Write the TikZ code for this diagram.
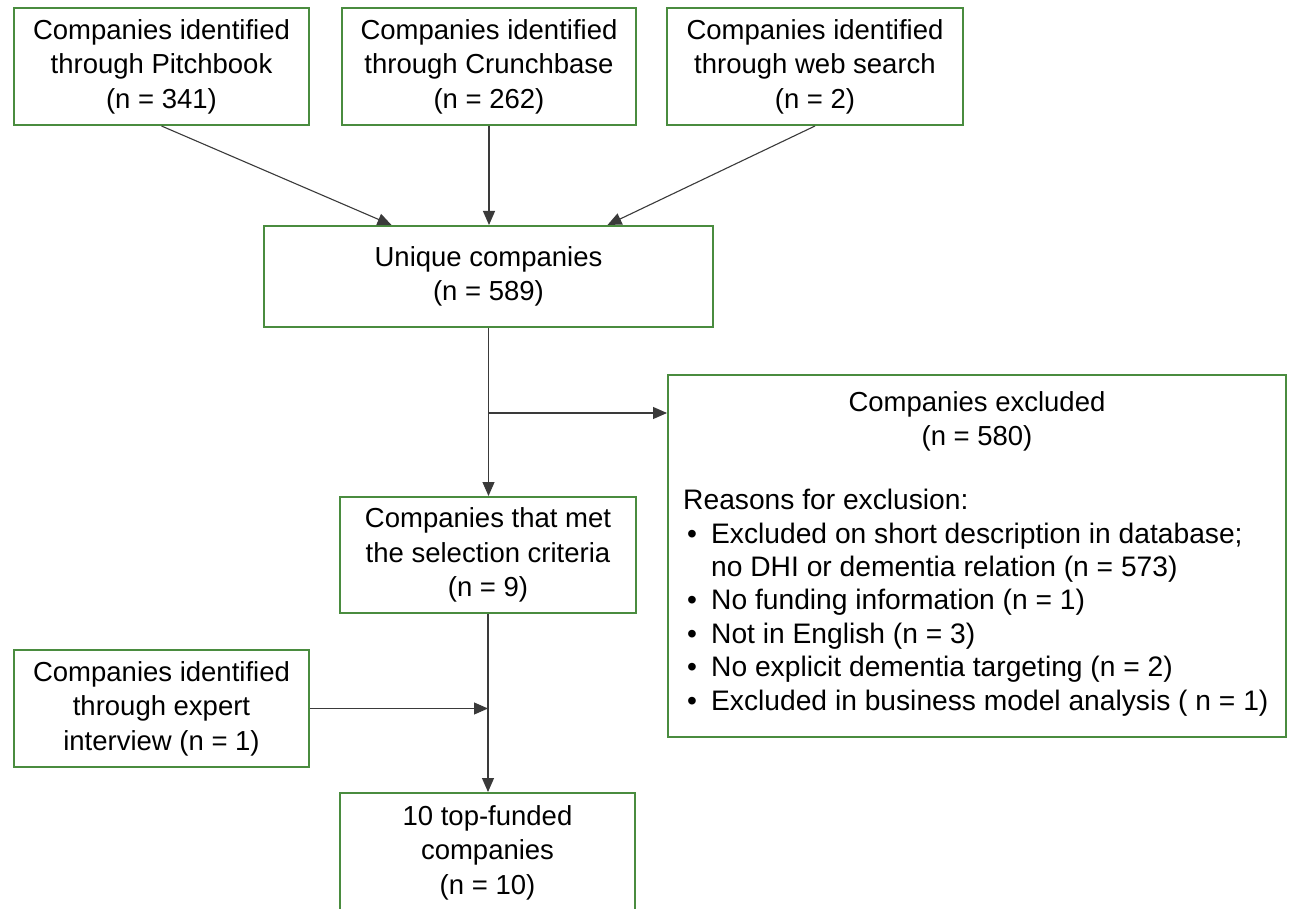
\documentclass[tikz,border=0pt]{standalone}
\usepackage{fontspec}
\setmainfont{Liberation Sans}
\usetikzlibrary{arrows.meta,calc}
\definecolor{boxgreen}{HTML}{4A8C3F}
\definecolor{linegray}{HTML}{3A3A3A}
\tikzset{
  stepbox/.style={draw=boxgreen, line width=2pt, fill=white, align=center, inner sep=0pt,
    font=\fontsize{27.5pt}{34.5pt}\selectfont},
  arr/.style={draw=linegray, line width=1.1pt, -{Triangle[length=14pt,width=12pt]}},
  txt/.style={inner sep=0pt, font=\fontsize{27.5pt}{34.5pt}\selectfont},
  listtxt/.style={inner sep=0pt, font=\fontsize{28.2pt}{33.4pt}\selectfont}
}
\begin{document}
\begin{tikzpicture}[x=1pt,y=-1pt]
\useasboundingbox (0,0) rectangle (1289,909);
\clip (0,0) rectangle (1289,909);
\fill[white] (0,0) rectangle (1289,909);

\node[stepbox, minimum width=295pt, minimum height=117pt] (A) at (161.5,66.5) {Companies identified\\through Pitchbook\\(n = 341)};
\node[stepbox, minimum width=294pt, minimum height=117pt] (B) at (489,66.5) {Companies identified\\through Crunchbase\\(n = 262)};
\node[stepbox, minimum width=296pt, minimum height=117pt] (C) at (815,66.5) {Companies identified\\through web search\\(n = 2)};
\node[stepbox, minimum width=449pt, minimum height=101pt] (U) at (488.5,276.5) {Unique companies\\(n = 589)};
\node[stepbox, minimum width=618pt, minimum height=362pt] (E) at (977,556) {};
\node[stepbox, minimum width=296pt, minimum height=116pt] (M) at (488,555) {Companies that met\\the selection criteria\\(n = 9)};
\node[stepbox, minimum width=295pt, minimum height=117pt] (X) at (161.5,708.5) {Companies identified\\through expert\\interview (n = 1)};
\node[stepbox, minimum width=295pt, minimum height=119pt] (T) at (487.5,852.5) {10 top-funded\\companies\\(n = 10)};

\node[txt, align=center, anchor=north] (Etitle) at ($(E.north)+(0,17)$) {Companies excluded\\(n = 580)};
\node[listtxt, align=left, anchor=north west] (Elist) at (683,489) {Reasons for exclusion:\\
\makebox[28pt][l]{\hspace{4pt}\textbullet}Excluded on short description in database;\\
\hspace*{28pt}no DHI or dementia relation (n = 573)\\
\makebox[28pt][l]{\hspace{4pt}\textbullet}No funding information (n = 1)\\
\makebox[28pt][l]{\hspace{4pt}\textbullet}Not in English (n = 3)\\
\makebox[28pt][l]{\hspace{4pt}\textbullet}No explicit dementia targeting (n = 2)\\
\makebox[28pt][l]{\hspace{4pt}\textbullet}Excluded in business model analysis ( n = 1)};

\draw[arr] (A.south) -- ([xshift=-97pt]U.north);
\draw[arr] (B.south) -- (B.south |- U.north);
\draw[arr] (C.south) -- ([xshift=119pt]U.north);
\draw[arr] (U.south) -- (U.south |- M.north);
\coordinate (brA) at (U.south |- 0,413);
\draw[arr] (brA) -- (brA -| E.west);
\draw[arr] (M.south) -- (M.south |- T.north);
\draw[arr] (X.east) -- (X.east -| M.south);
\end{tikzpicture}
\end{document}
